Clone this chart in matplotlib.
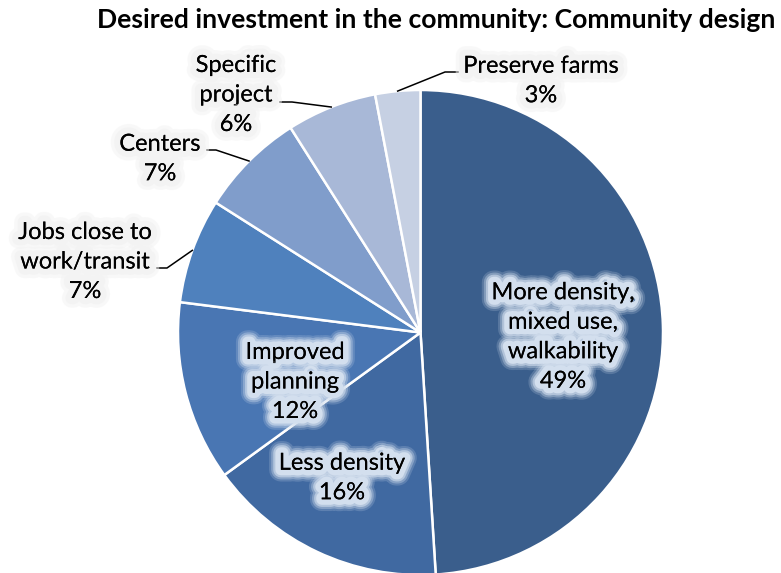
import matplotlib
matplotlib.use("Agg")
import numpy as np
import matplotlib.pyplot as plt
import matplotlib.patheffects as pe

# Survey shares, clockwise from 12 o'clock
categories = ["More density,\nmixed use,\nwalkability", "Less density", "Improved\nplanning",
              "Jobs close to\nwork/transit", "Centers", "Specific\nproject", "Preserve farms"]
shares = [49, 16, 12, 7, 7, 6, 3]
colors = ["#3A5E8C", "#4069A1", "#4976B3", "#4F81BD", "#809DCB", "#A8B8D7", "#C6D0E3"]
title = "Desired investment in the community: Community design"

W, H = 781, 573
fig = plt.figure(figsize=(W / 100, H / 100), dpi=100)
ax = fig.add_axes([0, 0, 1, 1])


def py(y):
    """Pixel row measured from the top -> axes y."""
    return H - y


cx, cy, R = 420.5, py(332.5), 242.5
ax.pie(shares, colors=colors, startangle=90, counterclock=False,
       center=(cx, cy), radius=R, frame=True,
       wedgeprops=dict(edgecolor="white", linewidth=1.8))
ax.set_xlim(0, W)
ax.set_ylim(0, H)
ax.set_aspect("equal")
ax.axis("off")

FONT = "Lato"
FS = 17


def glow(color, widths=(17, 14, 11, 8), alphas=(0.2, 0.35, 0.6, 1.0)):
    effects = [pe.withStroke(linewidth=w, foreground=color, alpha=a,
                             joinstyle="round", capstyle="round")
               for w, a in zip(widths, alphas)]
    return effects + [pe.Normal()]


inner_glow = glow("#D3DFEE")
outer_glow = glow("#F3F3F3", widths=(14, 9), alphas=(0.5, 0.9))

# label centres (pixel coords) for each wedge
label_pos = [(563, 337), (342, 478), (295, 382), (85, 262), (160, 159), (236, 95), (541, 81)]
inside = [True, True, True, False, False, False, False]

for name, val, (lx, ly), ins in zip(categories, shares, label_pos, inside):
    ax.text(lx, py(ly), f"{name}\n{val}%", ha="center", va="center",
            fontsize=FS, family=FONT, color="black", linespacing=1.5,
            path_effects=inner_glow if ins else outer_glow, zorder=5)

# leader lines: from wedge mid-angle on the rim to an elbow, then horizontal to the text
cum = np.cumsum([0] + shares) / sum(shares)
mid_angles = [np.deg2rad(90 - 360 * (cum[i] + cum[i + 1]) / 2) for i in range(len(shares))]
leaders = {3: ((167, 268), (157, 268)),
           4: ((216, 150), (207, 150)),
           5: ((292, 102), (280, 102)),
           6: ((445, 72), (458, 72))}
for i, (elbow, end) in leaders.items():
    rx = cx + R * np.cos(mid_angles[i])
    ry = cy + R * np.sin(mid_angles[i])
    ax.plot([rx, elbow[0], end[0]], [ry, py(elbow[1]), py(end[1])],
            color="black", linewidth=1.1, zorder=4)

ax.text(436, py(20), title, ha="center", va="center", fontsize=19.1,
        family=FONT, fontweight="bold", color="black")

fig.savefig("out.png", dpi=100)
